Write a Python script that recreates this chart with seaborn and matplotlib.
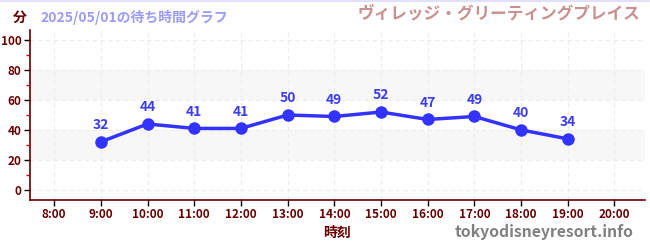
import numpy as np
import pandas as pd
import matplotlib
matplotlib.use("Agg")
import matplotlib.pyplot as plt
import seaborn as sns
from matplotlib.ticker import MultipleLocator

times = ["8:00", "9:00", "10:00", "11:00", "12:00", "13:00", "14:00",
         "15:00", "16:00", "17:00", "18:00", "19:00", "20:00"]
waits = [np.nan, 32, 44, 41, 41, 50, 49, 52, 47, 49, 40, 34, np.nan]
yticks = [0, 20, 40, 60, 80, 100]

sns.set_theme(style="white")
plt.rcParams['font.family'] = ['Noto Sans CJK JP', 'DejaVu Sans']

df = pd.DataFrame({"pos": np.arange(len(times)), "time": times, "wait": waits})

fig = plt.figure(figsize=(6.5, 2.5), dpi=100)
ax = fig.add_axes([0.046, 0.2, 0.946, 0.68])

spine_c = "#660000"
for y0 in (20, 60):
    ax.axhspan(y0, y0 + 20, color="#f7f7f7", zorder=0, lw=0)

d = df.dropna()
sns.lineplot(data=d, x="pos", y="wait", ax=ax, color="#3333ff", lw=2.5,
             marker="o", markersize=9, markeredgewidth=0, zorder=3)
for x, y in zip(d["pos"], d["wait"]):
    ax.annotate(f"{int(y)}", (x, y), xytext=(0, 7), textcoords="offset points",
                ha="center", va="bottom", color="#3d3dee", fontsize=10,
                fontweight="bold")

ax.set_xlim(-0.52, 12.65)
ax.set_ylim(-7, 107)
ax.set_xticks(np.arange(len(times)))
ax.set_xticklabels(times)
ax.set_yticks(yticks)
ax.yaxis.set_minor_locator(MultipleLocator(10))
ax.grid(True, which="major", color="#ececec", ls=(0, (4, 3)), lw=0.8)
ax.set_axisbelow(True)
for s in ("top", "right"):
    ax.spines[s].set_visible(False)
for s in ("left", "bottom"):
    ax.spines[s].set_color(spine_c)
    ax.spines[s].set_linewidth(1.2)
ax.tick_params(axis="both", which="major", colors="black", length=4, width=1,
               labelcolor=spine_c, labelsize=8.5, pad=2, left=True, bottom=True)
ax.tick_params(axis="y", which="minor", colors="#cc0000", length=3, width=1, left=True)
for lab in ax.get_xticklabels() + ax.get_yticklabels():
    lab.set_fontweight("bold")
ax.set_xlabel("時刻", color=spine_c, fontsize=10, fontweight="bold", labelpad=3)
ax.set_ylabel("")

fig.text(0.031, 0.93, "分", color=spine_c, fontsize=10, fontweight="bold",
         ha="center", va="center")
fig.text(0.062, 0.93, "2025/05/01の待ち時間グラフ", color="#9b9bf5", fontsize=10,
         fontweight="bold", ha="left", va="center")
fig.text(0.985, 0.945, "ヴィレッジ・グリーティングプレイス", color="#c99090",
         fontsize=12, fontweight="bold", ha="right", va="center")
fig.text(0.975, 0.07, "tokyodisneyresort.info", color="#808080", fontsize=11.3,
         fontweight="bold", ha="right", va="center")
fig.add_artist(plt.Line2D([0, 1], [0.997, 0.997], color="#e0e0fa", lw=1.5,
                          transform=fig.transFigure))

fig.savefig("out.png", dpi=100, facecolor="white")
